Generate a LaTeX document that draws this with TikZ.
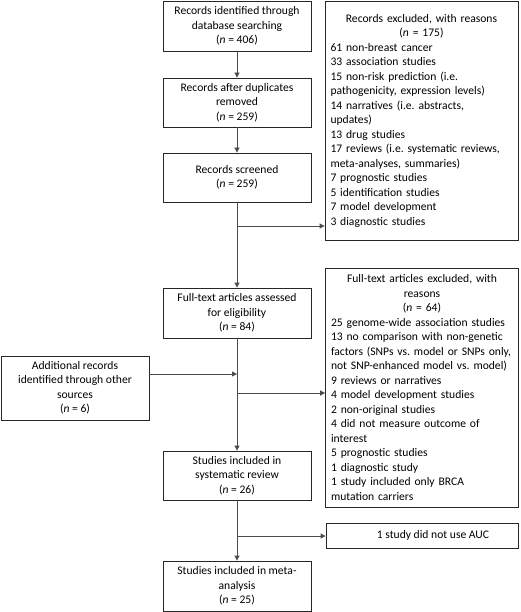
\documentclass[tikz,border=0pt]{standalone}
\usepackage{fontspec}
\setmainfont{Carlito}
\usepackage{tikz}
\usetikzlibrary{arrows.meta}
\frenchspacing

\begin{document}
\begin{tikzpicture}[x=1pt,y=-1pt,
  box/.style={draw=black!85,line width=0.8pt,align=center,inner sep=3pt,
    font=\fontsize{11.6}{14.5}\selectfont,minimum width=148pt},
  listbox/.style={draw=black!85,line width=0.8pt,inner xsep=5.5pt,inner ysep=0pt,
    font=\fontsize{11.6}{14.5}\selectfont,text width=182pt,
    minimum width=193pt,minimum height=239pt},
  arr/.style={draw=black!70,line width=0.8pt,-{Triangle[length=5pt,width=5pt]}}]
\useasboundingbox (0,0) rectangle (520,612);
\node[box,minimum height=50pt] (ident) at (237,26) {Records identified through\\database searching\\(\textit{n} = 406)};
\node[box,minimum height=49pt] (dupl) at (237,102.5) {Records after duplicates\\removed\\(\textit{n} = 259)};
\node[box,minimum height=49pt] (screen) at (237,177.5) {Records screened\\(\textit{n} = 259)};
\node[box,minimum height=50pt] (elig) at (237,313) {Full-text articles assessed\\for eligibility\\(\textit{n} = 84)};
\node[box,minimum height=49pt] (sysrev) at (237,475.5) {Studies included in\\systematic review\\(\textit{n} = 26)};
\node[box,minimum height=50pt] (meta) at (237,586) {Studies included in meta-\\analysis\\(\textit{n} = 25)};
\node[box,minimum height=64pt] (other) at (75,388) {Additional records\\identified through other\\sources\\(\textit{n} = 6)};
\node[listbox] (excl) at (421.5,120.5) {{\centering Records excluded, with reasons\\(\textit{n} = 175)\par}
  \raggedright 61 non-breast cancer\\33 association studies\\15 non-risk prediction (i.e.\\pathogenicity, expression levels)\\14 narratives (i.e. abstracts,\\updates)\\13 drug studies\\17 reviews (i.e. systematic reviews,\\meta-analyses, summaries)\\7 prognostic studies\\5 identification studies\\7 model development\\3 diagnostic studies};
\node[listbox] (ftexcl) at (422,387.5) {{\centering Full-text articles excluded, with\\reasons\\(\textit{n} = 64)\par}
  \raggedright 25 genome-wide association studies\\13 no comparison with non-genetic\\factors (SNPs vs. model or SNPs only,\\not SNP-enhanced model vs. model)\\9 reviews or narratives\\4 model development studies\\2 non-original studies\\4 did not measure outcome of\\interest\\5 prognostic studies\\1 diagnostic study\\1 study included only BRCA\\mutation carriers};
\node[box,minimum width=192pt,minimum height=25pt] (noauc) at (422,535.5) {\hspace{22pt}1 study did not use AUC};
\coordinate (j1) at (237,226);
\coordinate (j2) at (237,374);
\coordinate (j3) at (237,393);
\coordinate (j4) at (237,536);
\draw[arr] (ident) -- (dupl);
\draw[arr] (dupl) -- (screen);
\draw[arr] (screen) -- (elig);
\draw[arr] (elig) -- (sysrev);
\draw[arr] (sysrev) -- (meta);
\draw[arr] (j1) -- (j1 -| excl.west);
\draw[arr] (j2 -| other.east) -- (j2);
\draw[arr] (j3) -- (j3 -| ftexcl.west);
\draw[arr] (j4) -- (j4 -| noauc.west);
\end{tikzpicture}
\end{document}
